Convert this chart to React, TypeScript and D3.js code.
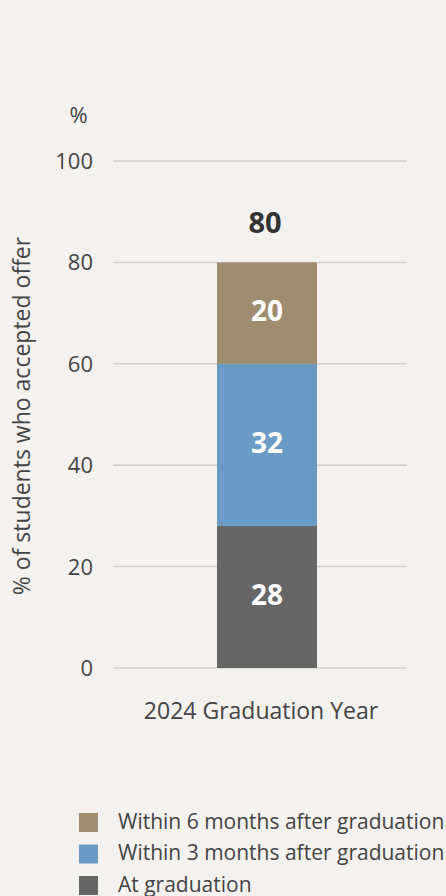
import React from "react";
import * as d3 from "d3";

const categories = ["2024 Graduation Year"];
const seriesNames = ["At graduation", "Within 3 months after graduation", "Within 6 months after graduation"];
const seriesValues = [[28], [32], [20]];
const seriesColors = ["#666666", "#6a9bc4", "#a08c6f"];
const yTicks = [0, 20, 40, 60, 80, 100];

const W = 446, H = 896;
const FONT = "'Open Sans', 'Noto Sans', sans-serif";

export default function App() {
  const y = d3.scaleLinear().domain([0, 100]).range([668, 161]);
  const x = d3.scaleBand().domain(categories).range([167, 367]).paddingInner(0).paddingOuter(0.5);
  const stackData = categories.map((c, i) => {
    const o: any = { cat: c };
    seriesNames.forEach((s, j) => (o[s] = seriesValues[j][i]));
    return o;
  });
  const stacked = d3.stack().keys(seriesNames)(stackData);
  const totals = categories.map((_, i) => d3.sum(seriesValues, (s) => s[i]));
  const legendOrder = [2, 1, 0];
  return (
    <svg width={W} height={H} style={{ position: "absolute", left: 0, top: 0, background: "#f3f2ef" }}>
      <rect x={0} y={0} width={W} height={H} fill="#f3f2ef" />
      <text x={78.5} y={123} fontFamily={FONT} fontSize={22} fill="#444" textAnchor="middle">%</text>
      {yTicks.map((t) => (
        <g key={t}>
          <line x1={113} x2={407} y1={y(t)} y2={y(t)} stroke="#d3d2cf" strokeWidth={1.5} />
          <text x={93} y={y(t) + 8} fontFamily={FONT} fontSize={22} fill="#444" textAnchor="end">{t}</text>
        </g>
      ))}
      <text transform={`translate(30,416) rotate(-90)`} fontFamily={FONT} fontSize={23} fill="#444" textAnchor="middle">% of students who accepted offer</text>
      {stacked.map((layer, j) => (
        <g key={j}>
          {layer.map((d, i) => {
            const cx = (x(categories[i]) as number) + x.bandwidth() / 2;
            return (
              <g key={i}>
                <rect x={x(categories[i])} y={y(d[1])} width={x.bandwidth()} height={y(d[0]) - y(d[1])} fill={seriesColors[j]} />
                <text x={cx} y={(y(d[0]) + y(d[1])) / 2 + 8} fontFamily={FONT} fontSize={28} fontWeight={700} fill="#fff" textAnchor="middle">{d[1] - d[0]}</text>
              </g>
            );
          })}
        </g>
      ))}
      {categories.map((c, i) => {
        const cx = (x(c) as number) + x.bandwidth() / 2;
        return (
          <g key={c}>
            <text x={cx - 2} y={y(totals[i]) - 29} fontFamily={FONT} fontSize={29} fontWeight={700} fill="#333" textAnchor="middle">{totals[i]}</text>
            <text x={cx - 6} y={719} fontFamily={FONT} fontSize={23} fill="#444" textAnchor="middle">{c}</text>
          </g>
        );
      })}
      {legendOrder.map((j, k) => (
        <g key={j} transform={`translate(79,${813 + k * 31.5})`}>
          <rect x={0} y={0} width={19} height={19} fill={seriesColors[j]} />
          <text x={39} y={15.5} fontFamily={FONT} fontSize={21} fill="#444">{seriesNames[j]}</text>
        </g>
      ))}
    </svg>
  );
}
